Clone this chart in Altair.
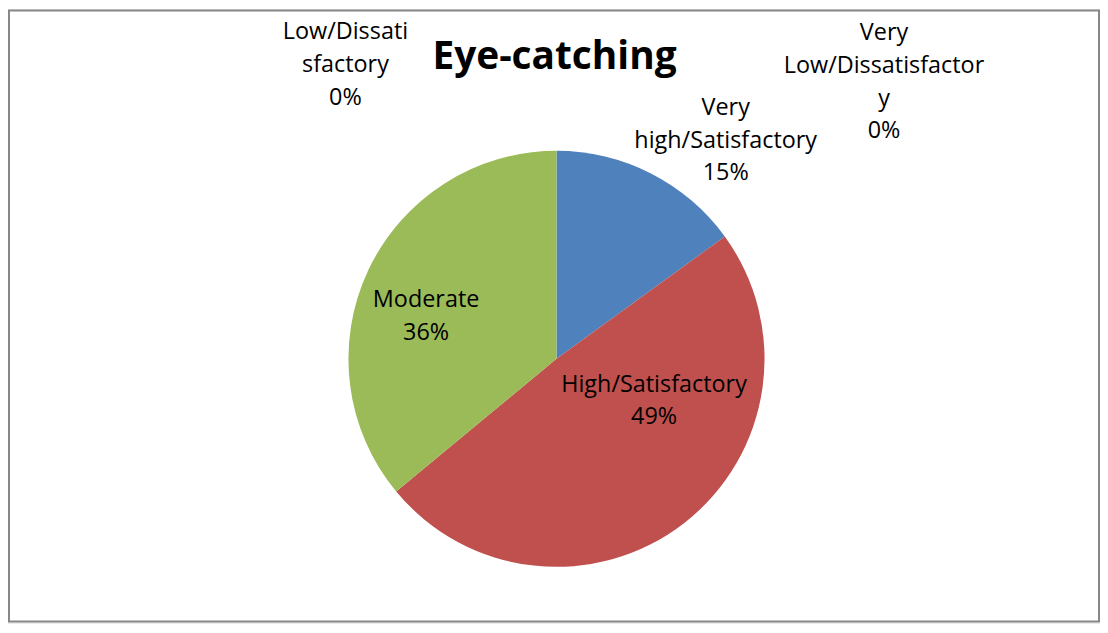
import altair as alt
import pandas as pd

# Data
categories = ["Very high/Satisfactory", "High/Satisfactory", "Moderate",
              "Low/Dissatisfactory", "Very Low/Dissatisfactory"]
percentages = [15, 49, 36, 0, 0]
slice_order = [1, 2, 3, 4, 5]
colors = ["#4F81BD", "#C0504D", "#9BBB59", "#8064A2", "#4BACC6"]
title_text = "Eye-catching"
# label text as wrapped in the reference
label_lines = [
    ["Very", "high/Satisfactory"],
    ["High/Satisfactory"],
    ["Moderate"],
    ["Low/Dissati", "sfactory"],
    ["Very", "Low/Dissatisfactor", "y"],
]

df = pd.DataFrame({"category": categories, "value": percentages, "order": slice_order})

W, H = 1097, 616
FONT = "Open Sans"

frame = alt.Chart(pd.DataFrame({"a": [0]})).mark_rect(
    fill="white", stroke="#878787", strokeWidth=2
).encode(x=alt.value(1), x2=alt.value(W - 1), y=alt.value(1), y2=alt.value(H - 1))

pie = alt.Chart(df).mark_arc(radius=209).encode(
    theta=alt.Theta("value:Q", stack=True),
    order=alt.Order("order:Q", sort="ascending"),
    color=alt.Color("category:N", scale=alt.Scale(domain=categories, range=colors), legend=None),
    x=alt.value(551),
    y=alt.value(351),
)

# anchor (chart px) of the first line of each label block
label_pos = [(721, 99), (649, 377), (420, 292), (339, 23), (880, 24)]

layers = [frame, pie]
for lines, pct, (lx, ly) in zip(label_lines, percentages, label_pos):
    txt = "\n".join(lines + [f"{pct}%"])
    layers.append(
        alt.Chart(pd.DataFrame({"t": [txt]})).mark_text(
            font=FONT, fontSize=23.5, color="black", align="center",
            baseline="middle", lineBreak="\n", lineHeight=32.8
        ).encode(text="t:N", x=alt.value(lx), y=alt.value(ly))
    )

title = alt.Chart(pd.DataFrame({"t": [title_text]})).mark_text(
    font=FONT, fontSize=39, fontWeight="bold", color="black",
    align="center", baseline="alphabetic"
).encode(text="t:N", x=alt.value(549), y=alt.value(60))
layers.append(title)

chart = alt.layer(*layers).properties(
    width=W, height=H, padding=0,
    autosize=alt.AutoSizeParams(type="fit", contains="padding"),
).configure_view(stroke=None).configure(background="white")

chart.save("out.html", embed_options={"renderer": "svg", "actions": False})
